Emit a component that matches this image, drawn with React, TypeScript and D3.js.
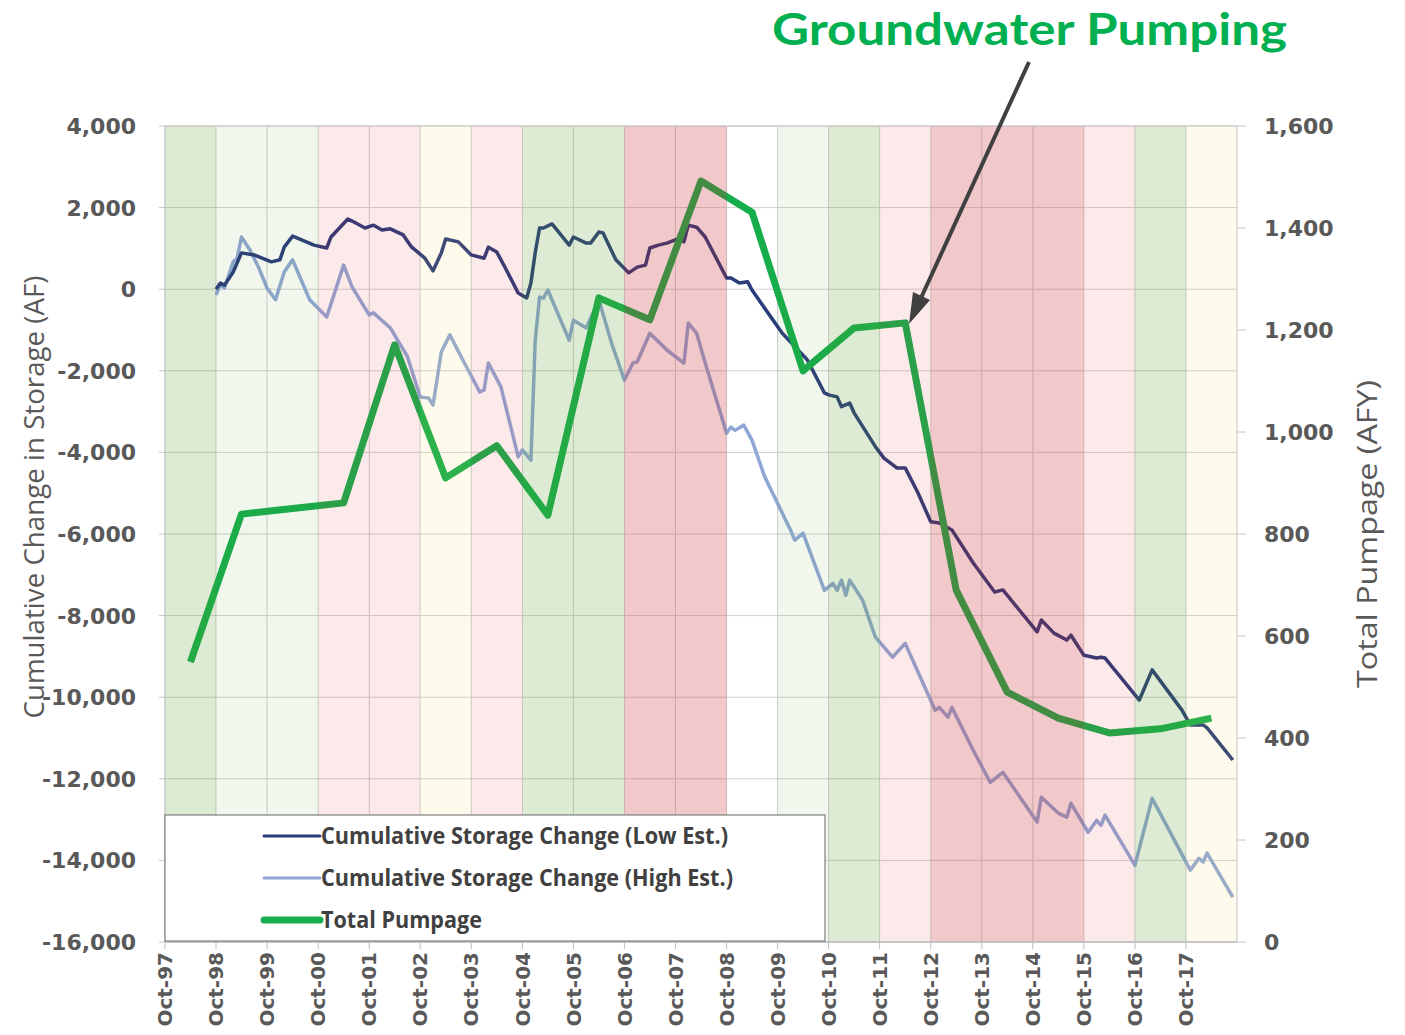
import React from 'react';
import * as d3 from 'd3';

// months counted from Oct-1997
const lowEst: [number, number][] = [
  [12, 0], [13, 150], [14, 100], [16, 420], [18, 890], [21, 840], [25, 670], [27, 720], [28, 1030],
  [30, 1300], [35, 1080], [38, 1010], [39, 1280], [43, 1720], [44, 1670], [47, 1500], [49, 1570],
  [51, 1450], [53, 1480], [56, 1330], [58, 1030], [61, 770], [63, 450], [65, 890], [66, 1230],
  [69, 1160], [72, 840], [75, 760], [76, 1030], [78, 910], [80, 520], [83, -95], [85, -215],
  [86, 150], [87, 900], [88, 1500], [89, 1500], [91, 1600], [95, 1080], [96, 1280], [99, 1130],
  [100, 1130], [102, 1400], [103, 1380], [106, 720], [109, 400], [111, 540], [113, 590], [114, 1010],
  [116, 1080], [118, 1130], [121, 1250], [122, 1160], [123, 1570], [125, 1520], [127, 1280],
  [132, 275], [133, 275], [135, 150], [137, 180], [138, -20], [145, -1070], [151, -1730],
  [155, -2540], [156, -2590], [158, -2640], [159, -2880], [161, -2790], [162, -3030], [167, -3860],
  [169, -4140], [172, -4380], [174, -4380], [177, -4990], [180, -5700], [182, -5730], [185, -5900],
  [190, -6710], [195, -7420], [197, -7370], [205, -8400], [206, -8110], [209, -8430], [212, -8600],
  [213, -8480], [216, -8970], [219, -9040], [220, -9020], [221, -9040], [229, -10070], [232, -9330],
  [239, -10310], [241, -10680], [244, -10680], [245, -10750], [251, -11540],
];

const highEst: [number, number][] = [
  [12, -140], [13, 100], [14, 30], [16, 670], [17, 760], [18, 1280], [20, 960], [22, 540], [24, 30],
  [26, -260], [28, 420], [30, 720], [34, -260], [38, -680], [42, 590], [44, 50], [48, -630],
  [49, -580], [53, -950], [57, -1650], [60, -2640], [62, -2670], [63, -2840], [65, -1540],
  [67, -1120], [71, -1930], [74, -2520], [75, -2470], [76, -1810], [79, -2400], [83, -4110],
  [84, -3940], [86, -4190], [87, -1240], [88, -190], [89, -220], [90, -20], [95, -1250], [96, -760],
  [99, -950], [102, -260], [105, -1320], [108, -2230], [110, -1810], [111, -1780], [114, -1080],
  [118, -1490], [122, -1810], [123, -830], [125, -1080], [127, -1810], [132, -3530], [133, -3380],
  [134, -3460], [136, -3330], [138, -3700], [141, -4600], [147, -5900], [148, -6150], [150, -5980],
  [155, -7380], [157, -7210], [158, -7380], [159, -7130], [160, -7500], [161, -7130], [164, -7620],
  [167, -8530], [171, -9020], [174, -8680], [181, -10320], [182, -10250], [184, -10490],
  [185, -10250], [190, -11300], [194, -12090], [197, -11840], [205, -13060], [206, -12450],
  [210, -12840], [212, -12940], [213, -12600], [217, -13310], [219, -13020], [220, -13140],
  [221, -12890], [228, -14120], [232, -12480], [241, -14240], [243, -13950], [244, -14040],
  [245, -13820], [251, -14900],
];

// annual pumpage, plotted at April of each water year (1998..2018)
const pumpYears = d3.range(1998, 2019);
const pumpage = [549, 839, 850, 861, 1171, 910, 973, 837, 1263, 1220, 1492, 1431, 1120, 1204, 1214, 690, 490, 439, 410, 418, 439];

// water year type for WY1998..WY2018
const yearTypes = ['wet', 'above', 'above', 'below', 'below', 'dry', 'below', 'wet', 'wet', 'critical', 'critical',
  'normal', 'above', 'wet', 'below', 'critical', 'critical', 'critical', 'below', 'wet', 'dry'];

const bandStyle: Record<string, { fill: string; op: number }> = {
  wet: { fill: '#5a9b28', op: 0.2 },
  above: { fill: '#5a9b28', op: 0.08 },
  normal: { fill: '#ffffff', op: 0 },
  below: { fill: '#e02828', op: 0.1 },
  dry: { fill: '#f5d040', op: 0.1 },
  critical: { fill: '#c8262b', op: 0.25 },
};

const leftTicks = d3.range(-16000, 4001, 2000);
const rightTicks = d3.range(0, 1601, 200);
const tickYears = d3.range(1997, 2018);

const W = 1405;
const H = 1035;
const left = 165;
const right = 1237;
const top = 126;
const bottom = 942;

const monthDate = (m: number) => new Date(1997, 9 + m, 1);

export default function App() {
  const x = d3.scaleTime().domain([monthDate(0), monthDate(252)]).range([left, right]);
  const yL = d3.scaleLinear().domain([-16000, 4000]).range([bottom, top]);
  const yR = d3.scaleLinear().domain([0, 1600]).range([bottom, top]);
  // plain hyphen for negatives, like the original
  const fmt = (v: number) => d3.format(',')(v).replace('\u2212', '-');

  const storageLine = d3.line<[number, number]>()
    .x((d) => x(monthDate(d[0])))
    .y((d) => yL(d[1]));
  const pumpLine = d3.line<number>()
    .x((_, i) => x(new Date(pumpYears[i], 3, 1)))
    .y((d) => yR(d));

  const axisColor = '#595959';
  const tickFont = "'DejaVu Sans', Verdana, sans-serif";
  const narrow = "'Liberation Sans Narrow', 'Open Sans', sans-serif";

  return (
    <svg width={W} height={H} style={{ position: 'absolute', left: 0, top: 0, background: '#fff' }}>
      {/* gridlines */}
      <g stroke="#d0d0d0" strokeWidth={1}>
        {leftTicks.map((t) => (
          <line key={'h' + t} x1={left} x2={right} y1={yL(t)} y2={yL(t)} />
        ))}
        {tickYears.map((yr) => (
          <line key={'v' + yr} x1={x(new Date(yr, 9, 1))} x2={x(new Date(yr, 9, 1))} y1={top} y2={bottom} />
        ))}
      </g>

      {/* series */}
      <path d={storageLine(highEst) || ''} fill="none" stroke="#8fa7d6" strokeWidth={3.5} strokeLinejoin="round" />
      <path d={storageLine(lowEst) || ''} fill="none" stroke="#2a3b7c" strokeWidth={3.5} strokeLinejoin="round" />
      <path d={pumpLine(pumpage) || ''} fill="none" stroke="#16ae4c" strokeWidth={7} strokeLinejoin="round" />

      {/* water-year bands overlaid with transparency */}
      {yearTypes.map((t, i) => {
        const x0 = x(new Date(1997 + i, 9, 1));
        const x1 = x(new Date(1998 + i, 9, 1));
        const s = bandStyle[t];
        return <rect key={'b' + i} x={x0} y={top} width={x1 - x0} height={bottom - top} fill={s.fill} fillOpacity={s.op} />;
      })}

      {/* axes frame */}
      <line x1={left} x2={right} y1={top} y2={top} stroke="#c8c8c8" />
      <line x1={left} x2={left} y1={top} y2={bottom} stroke="#c8c8c8" />
      <line x1={right} x2={right} y1={top} y2={bottom} stroke="#c8c8c8" />
      <line x1={left} x2={right} y1={bottom} y2={bottom} stroke="#bcbcbc" strokeWidth={1.5} />

      {/* left axis */}
      {leftTicks.map((t) => (
        <g key={'l' + t}>
          <line x1={left - 6} x2={left} y1={yL(t)} y2={yL(t)} stroke="#c8c8c8" />
          <text x={136} y={yL(t)} dy="0.36em" textAnchor="end" fontFamily={tickFont} fontWeight="bold" fontSize={22} fill={axisColor}>
            {fmt(t)}
          </text>
        </g>
      ))}

      {/* right axis */}
      {rightTicks.map((t) => (
        <g key={'r' + t}>
          <line x1={right} x2={right + 9} y1={yR(t)} y2={yR(t)} stroke="#c8c8c8" />
          <text x={1264} y={yR(t)} dy="0.36em" textAnchor="start" fontFamily={tickFont} fontWeight="bold" fontSize={22} fill={axisColor}>
            {fmt(t)}
          </text>
        </g>
      ))}

      {/* bottom axis */}
      {tickYears.map((yr) => {
        const xx = x(new Date(yr, 9, 1));
        return (
          <g key={'x' + yr}>
            <line x1={xx} x2={xx} y1={bottom} y2={bottom + 7} stroke="#bcbcbc" />
            <text
              transform={`translate(${xx},${bottom + 10}) rotate(-90)`}
              textAnchor="end"
              dy="0.36em"
              fontFamily={tickFont}
              fontWeight="bold"
              fontSize={20}
              fill={axisColor}
            >
              {`Oct-${String(yr % 100).padStart(2, '0')}`}
            </text>
          </g>
        );
      })}

      {/* axis titles */}
      <text transform="translate(44,497) rotate(-90)" textAnchor="middle" fontFamily={narrow} fontSize={27} fill={axisColor} textLength={443} lengthAdjust="spacingAndGlyphs">
        Cumulative Change in Storage (AF)
      </text>
      <text transform="translate(1377,534) rotate(-90)" textAnchor="middle" fontFamily={narrow} fontSize={27} fill={axisColor} textLength={308} lengthAdjust="spacingAndGlyphs">
        Total Pumpage (AFY)
      </text>

      {/* legend */}
      <rect x={left} y={815} width={660} height={126} fill="#fff" stroke="#7f7f7f" strokeWidth={1.2} />
      {[
        { label: 'Cumulative Storage Change (Low Est.)', color: '#2a3b7c', w: 3, len: 407 },
        { label: 'Cumulative Storage Change (High Est.)', color: '#8fa7d6', w: 3, len: 412 },
        { label: 'Total Pumpage', color: '#16ae4c', w: 7, len: 161 },
      ].map((d, i) => {
        const yy = 836 + i * 42;
        return (
          <g key={'lg' + i}>
            <line x1={264} x2={320} y1={yy} y2={yy} stroke={d.color} strokeWidth={d.w} strokeLinecap="round" />
            <text x={321} y={yy} dy="0.35em" fontFamily={narrow} fontWeight="bold" fontSize={23} fill="#404040" textLength={d.len} lengthAdjust="spacingAndGlyphs">
              {d.label}
            </text>
          </g>
        );
      })}

      {/* annotation */}
      <text x={772} y={45} fontFamily="Lato, 'Open Sans', sans-serif" fontWeight="bold" fontSize={44} fill="#00b050" textLength={515} lengthAdjust="spacingAndGlyphs">
        Groundwater Pumping
      </text>
      <line x1={1029} x2={921} y1={62} y2={298} stroke="#404040" strokeWidth={4} />
      <polygon points="909,324 913,292 930,300" fill="#404040" />
    </svg>
  );
}
